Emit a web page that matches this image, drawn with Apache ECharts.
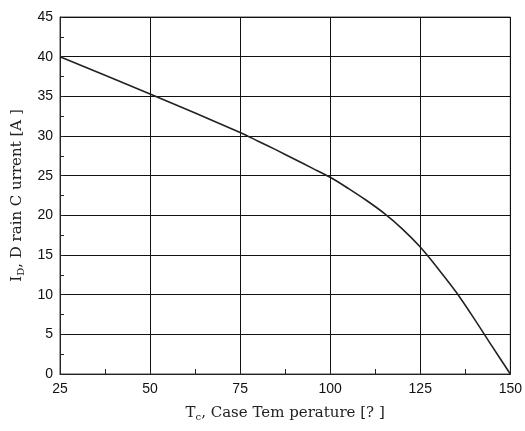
<!DOCTYPE html>
<html>
<head>
<meta charset="utf-8">
<script src="https://cdn.jsdelivr.net/npm/echarts@6/dist/echarts.min.js"></script>
<style>
html,body{margin:0;padding:0;background:#fff;}
#chart{width:525px;height:431px;}
</style>
</head>
<body>
<div id="chart"></div>
<script>
// Case temperature (°C)
const caseTemp = [25, 50, 75, 80, 85, 90, 95, 100, 105, 110, 115, 120, 125, 130, 135, 140, 145, 150];
// Drain current (A)
const drainCurrent = [40, 35.3, 30.45, 29.35, 28.25, 27.1, 25.95, 24.8, 23.4, 21.9, 20.25, 18.3, 16.0, 13.25, 10.3, 6.95, 3.45, 0];
const xTicks = [25, 50, 75, 100, 125, 150];
const yTicks = [0, 5, 10, 15, 20, 25, 30, 35, 40, 45];

const chart = echarts.init(document.getElementById('chart'), null, {renderer: 'canvas'});
const tickFont = {fontFamily: '"Liberation Sans Narrow", "Arial Narrow", Arial, sans-serif', fontSize: 14, color: '#111'};
const titleFont = '"DejaVu Serif", "Liberation Serif", serif';

chart.setOption({
  animation: false,
  grid: {left: 60, right: 12, top: 17, bottom: 57, show: true, borderColor: '#444', borderWidth: 1},
  xAxis: {
    type: 'value', min: xTicks[0], max: xTicks[xTicks.length - 1], interval: 25,
    name: '{m|T}{s|c}{m|, Case Tem perature [? ]}',
    nameLocation: 'middle', nameGap: 30,
    nameTextStyle: {rich: {
      m: {fontFamily: titleFont, fontSize: 15, color: '#222'},
      s: {fontFamily: titleFont, fontSize: 10, color: '#222', verticalAlign: 'bottom', padding: [8, 0, 0, 0]}
    }},
    axisLine: {lineStyle: {color: '#222', width: 1}},
    axisTick: {show: true, inside: true, length: 4, lineStyle: {color: '#222'}},
    minorTick: {show: true, splitNumber: 2, length: 5, lineStyle: {color: '#222', width: 1}},
    splitLine: {show: true, lineStyle: {color: '#111', width: 1}},
    axisLabel: Object.assign({margin: 8}, tickFont)
  },
  yAxis: {
    type: 'value', min: yTicks[0], max: yTicks[yTicks.length - 1], interval: 5,
    name: '{m|I}{s|D}{m|, D rain C urrent [A ]}',
    nameLocation: 'middle', nameGap: 32,
    nameTextStyle: {rich: {
      m: {fontFamily: titleFont, fontSize: 15, color: '#222'},
      s: {fontFamily: titleFont, fontSize: 10, color: '#222', verticalAlign: 'bottom', padding: [8, 0, 0, 0]}
    }},
    axisLine: {show: true, lineStyle: {color: '#222', width: 1}},
    axisTick: {show: true, inside: true, length: 4, lineStyle: {color: '#222'}},
    minorTick: {show: true, splitNumber: 2, length: 4, lineStyle: {color: '#222', width: 1}},
    splitLine: {show: true, lineStyle: {color: '#111', width: 1}},
    axisLabel: Object.assign({margin: 7}, tickFont)
  },
  series: [{
    type: 'line',
    data: caseTemp.map((t, i) => [t, drainCurrent[i]]),
    smooth: 0.3,
    showSymbol: false,
    lineStyle: {color: '#222', width: 1.6}
  }]
});
</script>
</body>
</html>
